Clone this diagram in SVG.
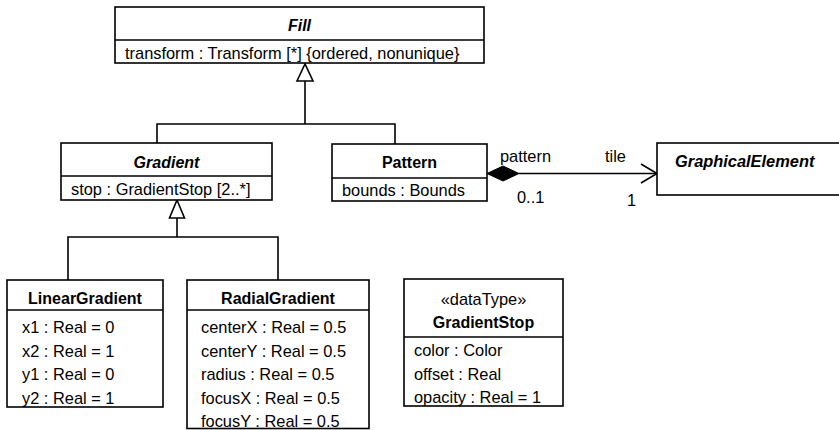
<svg xmlns="http://www.w3.org/2000/svg" width="839" height="430" viewBox="0 0 839 430">
<style>
rect{fill:#fff;stroke:#000;stroke-width:1.6}
line,path,polyline{stroke:#000;stroke-width:1.6;fill:none}
text{font-family:"Liberation Sans",Arial,sans-serif;font-size:16.4px;fill:#000}
.t{font-weight:bold;text-anchor:middle;font-size:16px}
.a{font-style:italic}
.m{text-anchor:middle}
</style>
<g id="connectors">
<polygon points="305,64 297,81 313,81" fill="#fff" stroke="#000" stroke-width="1.6"/>
<polyline points="305,81 305,124"/>
<polyline points="157,143 157,124 395,124 395,144"/>
<polygon points="177,200 169.5,218 184.5,218" fill="#fff" stroke="#000" stroke-width="1.6"/>
<polyline points="177,218 177,237"/>
<polyline points="68,280 68,237 278,237 278,280"/>
<polygon points="487,173.5 503,166 519,173.5 503,181" fill="#000" stroke="#000" stroke-width="1"/>
<line x1="519" y1="173.5" x2="657" y2="173.5"/>
<polyline points="641,164 657,173.5 641,183"/>
<text x="500" y="162">pattern</text>
<text x="605" y="162">tile</text>
<text x="517" y="203">0..1</text>
<text x="627" y="206">1</text>
</g>
<g id="Fill">
<rect x="115" y="7" width="369" height="56"/>
<line x1="115" y1="40" x2="484" y2="40"/>
<text class="t a" x="299.5" y="31">Fill</text>
<text x="125" y="59">transform : Transform [*] {ordered, nonunique}</text>
</g>
<g id="Gradient">
<rect x="61" y="143" width="211" height="57"/>
<line x1="61" y1="176" x2="272" y2="176"/>
<text class="t a" x="166.5" y="168">Gradient</text>
<text x="71" y="195">stop : GradientStop [2..*]</text>
</g>
<g id="Pattern">
<rect x="332" y="144" width="155" height="57"/>
<line x1="332" y1="178" x2="487" y2="178"/>
<text class="t" x="409.5" y="168">Pattern</text>
<text x="342" y="196">bounds : Bounds</text>
</g>
<g id="GraphicalElement">
<rect x="657" y="143" width="190" height="52"/>
<text class="a" x="675" y="167" font-weight="bold" font-size="16">GraphicalElement</text>
</g>
<g id="LinearGradient">
<rect x="7" y="280" width="156" height="127"/>
<line x1="7" y1="310" x2="163" y2="310"/>
<text class="t" x="85" y="304">LinearGradient</text>
<text x="22" y="333">x1 : Real = 0</text>
<text x="22" y="356.5">x2 : Real = 1</text>
<text x="22" y="380">y1 : Real = 0</text>
<text x="22" y="403.5">y2 : Real = 1</text>
</g>
<g id="RadialGradient">
<rect x="187" y="280" width="182" height="148.5"/>
<line x1="187" y1="310" x2="369" y2="310"/>
<text class="t" x="278" y="304">RadialGradient</text>
<text x="201" y="333">centerX : Real = 0.5</text>
<text x="201" y="356.5">centerY : Real = 0.5</text>
<text x="201" y="380">radius : Real = 0.5</text>
<text x="201" y="403.5">focusX : Real = 0.5</text>
<text x="201" y="427">focusY : Real = 0.5</text>
</g>
<g id="GradientStop">
<rect x="404" y="279" width="159" height="127"/>
<line x1="404" y1="337" x2="563" y2="337"/>
<text class="m" x="483.5" y="305">«dataType»</text>
<text class="t" x="483.5" y="328">GradientStop</text>
<text x="414" y="356">color : Color</text>
<text x="414" y="379.5">offset : Real</text>
<text x="414" y="403">opacity : Real = 1</text>
</g>
</svg>
